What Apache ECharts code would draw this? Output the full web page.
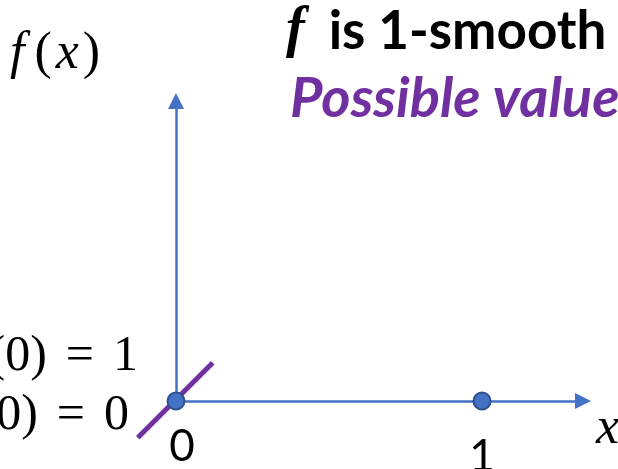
<!DOCTYPE html>
<html>
<head>
<meta charset="utf-8">
<script src="https://cdn.jsdelivr.net/npm/echarts@6/dist/echarts.min.js"></script>
<style>
  html, body { margin: 0; padding: 0; background: #fff; }
  #chart { width: 618px; height: 469px; }
</style>
</head>
<body>
<div id="chart"></div>
<script>
// values
var xTicks = [0, 1]
var points = [[0, 0], [1, 0]]
var slopeLine = [[-0.125, -0.12], [0.12, 0.125]]
var xMax = 1.33
var yMax = 0.98

var axisBlue = '#4472C4'
var purple = '#7030A0'
var mathFont = '"Liberation Serif", "DejaVu Serif", serif'
var sansFont = 'Lato, "Open Sans", sans-serif'

var chart = echarts.init(document.getElementById('chart'))

var option = {
  animation: false,
  grid: { left: 176, top: 101, width: 407, height: 300, outerBoundsMode: 'none', containLabel: false },
  xAxis: {
    type: 'value',
    min: 0,
    max: xMax,
    splitLine: { show: false },
    axisTick: { show: false },
    axisLine: {
      lineStyle: { color: axisBlue, width: 2.5 },
      symbol: ['none', 'triangle'],
      symbolSize: [16, 16]
    },
    axisLabel: {
      customValues: xTicks,
      margin: 24,
      formatter: function (v) {
        return v === 0 ? '{a|0}' : '{b|1}'
      },
      rich: {
        a: { fontFamily: sansFont, fontSize: 44, color: '#000', padding: [0, 0, 0, 12] },
        b: { fontFamily: sansFont, fontSize: 44, color: '#000', padding: [10, 0, 0, 0] }
      }
    }
  },
  yAxis: {
    type: 'value',
    min: 0,
    max: yMax,
    splitLine: { show: false },
    axisTick: { show: false },
    axisLabel: { show: false },
    axisLine: {
      lineStyle: { color: axisBlue, width: 2.5 },
      symbol: ['none', 'triangle'],
      symbolSize: [16, 16]
    }
  },
  series: [
    {
      // slope-1 segment through the origin, allowed to run past the axes
      type: 'custom',
      clip: false,
      data: [slopeLine[0].concat(slopeLine[1])],
      encode: { x: [0, 2], y: [1, 3] },
      renderItem: function (params, api) {
        var p1 = api.coord([api.value(0), api.value(1)])
        var p2 = api.coord([api.value(2), api.value(3)])
        return {
          type: 'line',
          shape: { x1: p1[0], y1: p1[1], x2: p2[0], y2: p2[1] },
          style: { stroke: purple, lineWidth: 5 }
        }
      },
      z: 3
    },
    {
      type: 'scatter',
      data: points,
      clip: false,
      symbolSize: 17,
      itemStyle: { color: axisBlue, borderColor: '#2F528F', borderWidth: 2, opacity: 1 },
      z: 4
    }
  ],
  graphic: [
    {
      type: 'text', left: 10, top: 28,
      style: {
        text: '{f|f}{n|(}{x|x}{n|)}',
        rich: {
          f: { fontFamily: mathFont, fontStyle: 'italic', fontSize: 52, fill: '#000', padding: [0, 10, 0, 0] },
          x: { fontFamily: mathFont, fontStyle: 'italic', fontSize: 52, fill: '#000', padding: [0, 4, 0, 4] },
          n: { fontFamily: mathFont, fontSize: 52, fill: '#000' }
        }
      }
    },
    {
      type: 'text', left: 286, top: 4,
      style: {
        text: '{i|f}{b|is 1-smooth}',
        rich: {
          i: { fontFamily: mathFont, fontStyle: 'italic', fontWeight: 'bold', fontSize: 56, fill: '#000', padding: [0, 24, 0, 0] },
          b: { fontFamily: sansFont, fontWeight: 'bold', fontSize: 53, fill: '#000' }
        }
      }
    },
    {
      type: 'text', left: 290, top: 71,
      style: {
        text: 'Possible values',
        font: 'italic bold 56px ' + sansFont,
        fill: purple
      }
    },
    {
      type: 'text', right: 480, top: 332,
      style: {
        text: '{n|f\u2032(0)}{e|=}{n|1}',
        rich: {
          n: { fontFamily: mathFont, fontSize: 50, fill: '#000' },
          e: { fontFamily: mathFont, fontSize: 50, fill: '#000', padding: [0, 19, 0, 19] }
        }
      }
    },
    {
      type: 'text', right: 489, top: 391,
      style: {
        text: '{n|f(0)}{e|=}{n|0}',
        rich: {
          n: { fontFamily: mathFont, fontSize: 50, fill: '#000' },
          e: { fontFamily: mathFont, fontSize: 50, fill: '#000', padding: [0, 19, 0, 19] }
        }
      }
    },
    {
      type: 'text', left: 596, top: 403,
      style: {
        text: 'x',
        font: 'italic 52px ' + mathFont,
        fill: '#000'
      }
    }
  ]
}

chart.setOption(option)
</script>
</body>
</html>
